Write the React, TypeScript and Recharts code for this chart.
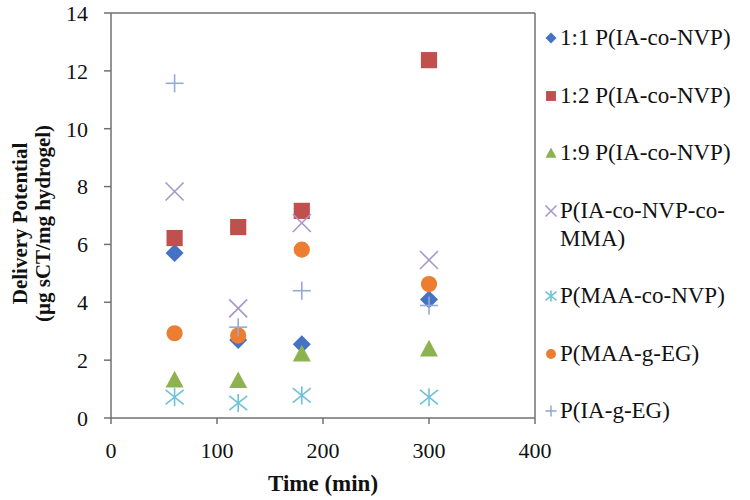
import React from "react";
import {
  ScatterChart,
  Scatter,
  XAxis,
  YAxis,
  ReferenceLine,
  Legend,
} from "recharts";

const times = [60, 120, 180, 300];

const ratio11 = [5.7, 2.7, 2.55, 4.1];
const ratio12 = [6.22, 6.6, 7.16, 12.37];
const ratio19 = [1.32, 1.3, 2.22, 2.39];
const iaNvpMma = [7.83, 3.79, 6.74, 5.46];
const maaNvp = [0.72, 0.52, 0.78, 0.72];
const maaEg = [2.93, 2.85, 5.82, 4.63];
const iaEg = [11.57, 3.14, 4.4, 3.89];

const xTicks = [0, 100, 200, 300, 400];
const yTicks = [0, 2, 4, 6, 8, 10, 12, 14];

const FONT = "'Liberation Serif', 'Times New Roman', serif";
const AXIS = "#707070";

type Mark = "diamond" | "square" | "triangle" | "x" | "star" | "circle" | "plus";

const series: { name: string; values: number[]; color: string; mark: Mark }[] = [
  { name: "1:1 P(IA-co-NVP)", values: ratio11, color: "#4472C4", mark: "diamond" },
  { name: "1:2 P(IA-co-NVP)", values: ratio12, color: "#C0504D", mark: "square" },
  { name: "1:9 P(IA-co-NVP)", values: ratio19, color: "#8DB350", mark: "triangle" },
  { name: "P(IA-co-NVP-co-MMA)", values: iaNvpMma, color: "#A597C9", mark: "x" },
  { name: "P(MAA-co-NVP)", values: maaNvp, color: "#6FC2D6", mark: "star" },
  { name: "P(MAA-g-EG)", values: maaEg, color: "#ED7D31", mark: "circle" },
  { name: "P(IA-g-EG)", values: iaEg, color: "#95A9D8", mark: "plus" },
];

function drawMark(mark: Mark, cx: number, cy: number, r: number, color: string) {
  switch (mark) {
    case "diamond":
      return (
        <polygon
          points={`${cx},${cy - r} ${cx + r},${cy} ${cx},${cy + r} ${cx - r},${cy}`}
          fill={color}
        />
      );
    case "square":
      return <rect x={cx - r * 0.9} y={cy - r * 0.9} width={r * 1.8} height={r * 1.8} fill={color} />;
    case "triangle":
      return (
        <polygon
          points={`${cx},${cy - r} ${cx + r},${cy + r * 0.85} ${cx - r},${cy + r * 0.85}`}
          fill={color}
        />
      );
    case "circle":
      return <circle cx={cx} cy={cy} r={r * 0.9} fill={color} />;
    case "x":
      return (
        <g stroke={color} strokeWidth={1.6}>
          <line x1={cx - r} y1={cy - r} x2={cx + r} y2={cy + r} />
          <line x1={cx - r} y1={cy + r} x2={cx + r} y2={cy - r} />
        </g>
      );
    case "star":
      return (
        <g stroke={color} strokeWidth={1.6}>
          <line x1={cx - r} y1={cy - r * 0.8} x2={cx + r} y2={cy + r * 0.8} />
          <line x1={cx - r} y1={cy + r * 0.8} x2={cx + r} y2={cy - r * 0.8} />
          <line x1={cx} y1={cy - r} x2={cx} y2={cy + r} />
        </g>
      );
    case "plus":
      return (
        <g stroke={color} strokeWidth={1.6}>
          <line x1={cx - r} y1={cy} x2={cx + r} y2={cy} />
          <line x1={cx} y1={cy - r} x2={cx} y2={cy + r} />
        </g>
      );
  }
}

function LegendBox() {
  return (
    <div style={{ fontFamily: FONT, fontSize: 23, color: "#111", textAlign: "left" }}>
      {series.map((s) => (
        <div key={s.name} style={{ display: "flex", lineHeight: "28px", marginBottom: 29.5 }}>
          <svg width={20} height={28} style={{ flex: "none" }}>
            {drawMark(s.mark, 11, 14, 5.5, s.color)}
          </svg>
          <span style={{ width: 185 }}>{s.name}</span>
        </div>
      ))}
    </div>
  );
}

function YTitle({ viewBox }: any) {
  const cy = viewBox.y + viewBox.height / 2 + 8;
  return (
    <g fontFamily={FONT} fontSize={21} fontWeight="bold" fill="#111">
      <text x={20} y={cy} transform={`rotate(-90, 20, ${cy})`} textAnchor="middle" dominantBaseline="central">
        Delivery Potential
      </text>
      <text x={43} y={cy} transform={`rotate(-90, 43, ${cy})`} textAnchor="middle" dominantBaseline="central">
        (µg sCT/mg hydrogel)
      </text>
    </g>
  );
}

function XTitle({ viewBox }: any) {
  const cx = viewBox.x + viewBox.width / 2;
  return (
    <text
      x={cx}
      y={483}
      textAnchor="middle"
      dominantBaseline="central"
      fontFamily={FONT}
      fontSize={23}
      fontWeight="bold"
      fill="#111"
    >
      Time (min)
    </text>
  );
}

export default function App() {
  const tick = { fontFamily: FONT, fontSize: 22, fill: "#111" };
  return (
    <div style={{ position: "absolute", left: 0, top: 0, background: "#fff" }}>
      <ScatterChart width={750} height={500} margin={{ top: 13, right: 215, bottom: 0, left: 0 }}>
        <XAxis
          type="number"
          dataKey="x"
          domain={[0, 400]}
          ticks={xTicks}
          height={82}
          tickSize={6}
          tickMargin={18}
          tick={tick}
          stroke={AXIS}
          strokeWidth={1.5}
          tickLine={{ stroke: AXIS, strokeWidth: 1.5 }}
          label={<XTitle />}
        />
        <YAxis
          type="number"
          dataKey="y"
          domain={[0, 14]}
          ticks={yTicks}
          width={111}
          tickSize={7}
          tickMargin={16}
          tick={tick}
          stroke={AXIS}
          strokeWidth={1.5}
          tickLine={{ stroke: AXIS, strokeWidth: 1.5 }}
          label={<YTitle />}
        />
        <ReferenceLine y={14} stroke={AXIS} strokeWidth={1.5} />
        <ReferenceLine x={400} stroke={AXIS} strokeWidth={1.5} />
        {series.map((s) => (
          <Scatter
            key={s.name}
            name={s.name}
            data={times.map((t, i) => ({ x: t, y: s.values[i] }))}
            isAnimationActive={false}
            shape={(p: any) => drawMark(s.mark, p.cx, p.cy, 9, s.color)}
          />
        ))}
        <Legend
          layout="horizontal"
          align="center"
          verticalAlign="middle"
          wrapperStyle={{ left: 540, top: 24, width: 210 }}
          content={() => <LegendBox />}
        />
      </ScatterChart>
    </div>
  );
}
